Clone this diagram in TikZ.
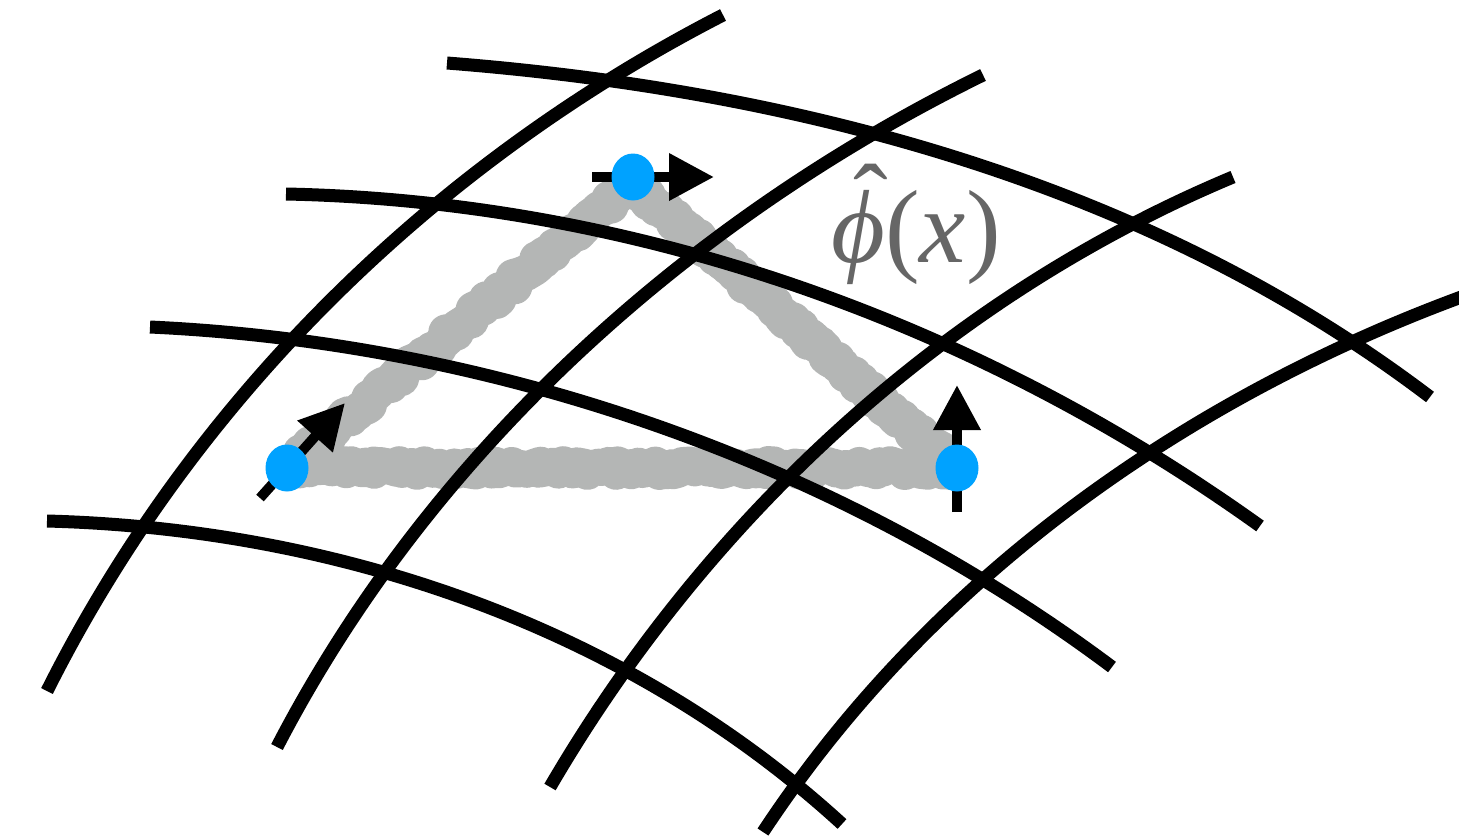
\documentclass[tikz,border=0pt]{standalone}
\usepackage{fontspec}
\setmainfont{Liberation Serif}
\usetikzlibrary{arrows.meta,decorations.pathmorphing,shapes.geometric}
\definecolor{dotblue}{RGB}{0,162,255}
\definecolor{trigray}{RGB}{180,182,181}
\definecolor{labelgray}{RGB}{102,102,102}
\tikzset{
  gridline/.style={line width=13pt, black, line cap=butt},
  tri/.style={trigray, line width=36pt, line join=round, line cap=round,
    decorate, decoration={random steps, segment length=4pt, amplitude=4pt}},
  dot/.style={ellipse, fill=dotblue, minimum width=43pt, minimum height=47pt, inner sep=0pt},
  vec/.style={line width=10pt, -{Triangle[length=45pt,width=45pt]}},
  lbl/.style={labelgray, inner sep=0pt, anchor=base, font=\fontsize{104}{110}\selectfont},
}
\begin{document}
\begin{tikzpicture}[x=1pt,y=-1pt]
\useasboundingbox (0,0) rectangle (1459,839);
% horizontal curves
\coordinate (h1s) at (447,63);  \coordinate (h1e) at (1430,397);
\coordinate (h2s) at (286,194); \coordinate (h2e) at (1260,526);
\coordinate (h3s) at (150,327); \coordinate (h3e) at (1112,667);
\coordinate (h4s) at (47,521);  \coordinate (h4e) at (842,824);
% vertical curves
\coordinate (v1s) at (47,691);  \coordinate (v1e) at (723,15);
\coordinate (v2s) at (277,747); \coordinate (v2e) at (983,75);
\coordinate (v3s) at (550,787); \coordinate (v3e) at (1233,177);
\coordinate (v4s) at (763,832); \coordinate (v4e) at (1475,292);
% triangle (drawn beneath the grid)
\coordinate (A) at (287,468);
\coordinate (B) at (633,184);
\coordinate (C) at (957,468);
\draw[tri] (A) -- (B) -- (C) -- cycle;
% grid
\draw[gridline] (h1s) .. controls (795.7,90.3) and (1147.3,182.2) .. (h1e);
\draw[gridline] (h2s) .. controls (636.2,201.2) and (975.8,322.3) .. (h2e);
\draw[gridline] (h3s) .. controls (491.7,342.7) and (834.5,459.5) .. (h3e);
\draw[gridline] (h4s) .. controls (336.5,528.7) and (625.8,626.1) .. (h4e);
\draw[gridline] (v1s) .. controls (193.3,399.1) and (433.8,163.5) .. (v1e);
\draw[gridline] (v2s) .. controls (429.5,452.5) and (687.7,220) .. (v2e);
\draw[gridline] (v3s) .. controls (706.4,519) and (944.6,297.4) .. (v3e);
\draw[gridline] (v4s) .. controls (931.3,576.6) and (1189.2,394.8) .. (v4e);
% arrows
\coordinate (a0) at (260,498); \coordinate (a1) at (345,403);
\coordinate (b0) at (592,177); \coordinate (b1) at (714,177);
\coordinate (c0) at (957,512); \coordinate (c1) at (957,385);
\draw[vec] (a0) -- (a1);
\draw[vec] (b0) -- (b1);
\draw[vec] (c0) -- (c1);
% dots
\node[dot] (dA) at (287,468) {};
\node[dot] (dB) at (633,177) {};
\node[dot] (dC) at (957,468) {};
% label
\node[lbl] (lab) at (916,262) {\rlap{\hspace{22pt}\raisebox{26pt}{ˆ}}\itshape ϕ\upshape(\itshape x\upshape)};
\end{tikzpicture}
\end{document}
